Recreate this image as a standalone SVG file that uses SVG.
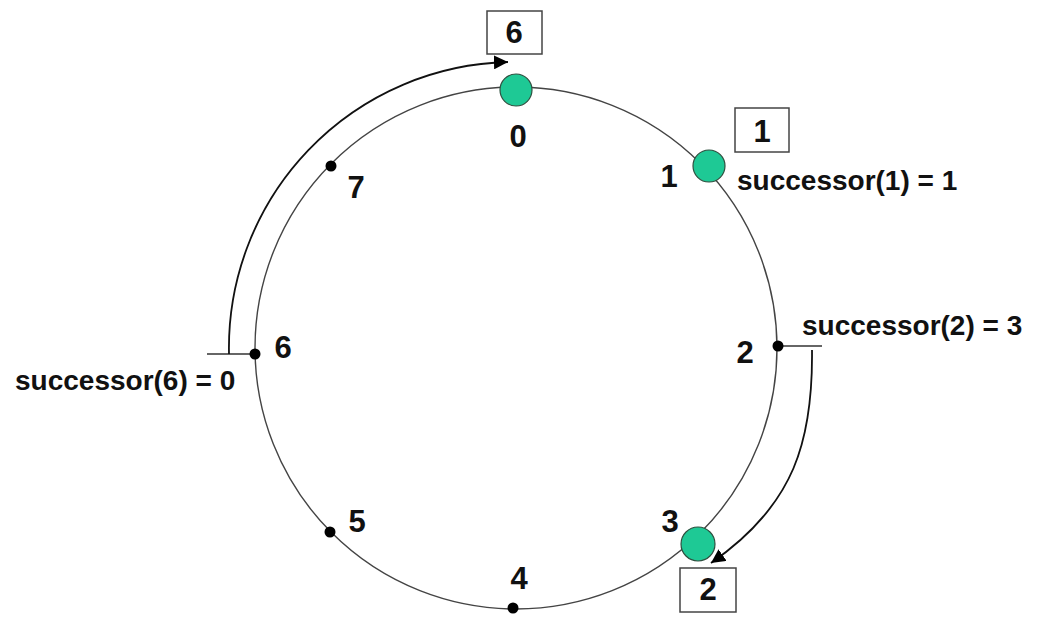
<svg xmlns="http://www.w3.org/2000/svg" width="1043" height="642" viewBox="0 0 1043 642">
<style>
.ring{fill:none;stroke:#444;stroke-width:1.4}
.arc{fill:none;stroke:#111;stroke-width:1.8}
.tick{stroke:#333;stroke-width:1.4}
.peer{fill:#1ec995;stroke:#2f4f3f;stroke-width:1.2}
.dot{fill:#000}
.box{fill:#fff;stroke:#444;stroke-width:1.5}
text{font-family:"Liberation Sans",Arial,sans-serif;font-weight:bold;fill:#111}
.lbl{font-size:31px;text-anchor:middle}
.succ{font-size:28px}
</style>
<defs>
<marker id="ah" markerUnits="userSpaceOnUse" markerWidth="16" markerHeight="14" refX="14" refY="7" orient="auto">
<path d="M0,0 L14,7 L0,14 z" fill="#000"/>
</marker>
</defs>
<circle class="ring" cx="516" cy="348" r="261"/>
<g id="connectors">
<line class="tick" x1="207" y1="354" x2="255" y2="354"/>
<path class="arc" d="M 229 354 A 286 286 0 0 1 508 62" marker-end="url(#ah)"/>
<line class="tick" x1="778" y1="346" x2="822" y2="346"/>
<path class="arc" d="M 812 350 C 813 440, 795 505, 711 563" marker-end="url(#ah)"/>
</g>
<g id="node0"><circle class="peer" cx="516" cy="90" r="16"/><text class="lbl" x="518" y="147">0</text></g>
<g id="node1"><circle class="peer" cx="709" cy="166" r="16"/><text class="lbl" x="669" y="187">1</text></g>
<g id="node2"><circle class="dot" cx="778" cy="346" r="5.5"/><text class="lbl" x="745" y="363">2</text></g>
<g id="node3"><circle class="peer" cx="698" cy="544" r="17"/><text class="lbl" x="670" y="532">3</text></g>
<g id="node4"><circle class="dot" cx="513" cy="608" r="5.5"/><text class="lbl" x="519" y="589">4</text></g>
<g id="node5"><circle class="dot" cx="330" cy="532" r="5.5"/><text class="lbl" x="357" y="532">5</text></g>
<g id="node6"><circle class="dot" cx="255" cy="354" r="5.5"/><text class="lbl" x="283" y="358">6</text></g>
<g id="node7"><circle class="dot" cx="331" cy="166" r="5.5"/><text class="lbl" x="356" y="198">7</text></g>
<g id="box6"><rect class="box" x="487" y="11" width="55" height="43"/><text class="lbl" x="514" y="43">6</text></g>
<g id="box1"><rect class="box" x="735" y="108" width="54" height="44"/><text class="lbl" x="762" y="142">1</text></g>
<g id="box2"><rect class="box" x="680" y="568" width="56" height="44"/><text class="lbl" x="708" y="600">2</text></g>
<g id="succ1"><text class="succ" x="737" y="190">successor(1) = 1</text></g>
<g id="succ2"><text class="succ" x="802" y="335">successor(2) = 3</text></g>
<g id="succ6"><text class="succ" x="15" y="390">successor(6) = 0</text></g>
</svg>
